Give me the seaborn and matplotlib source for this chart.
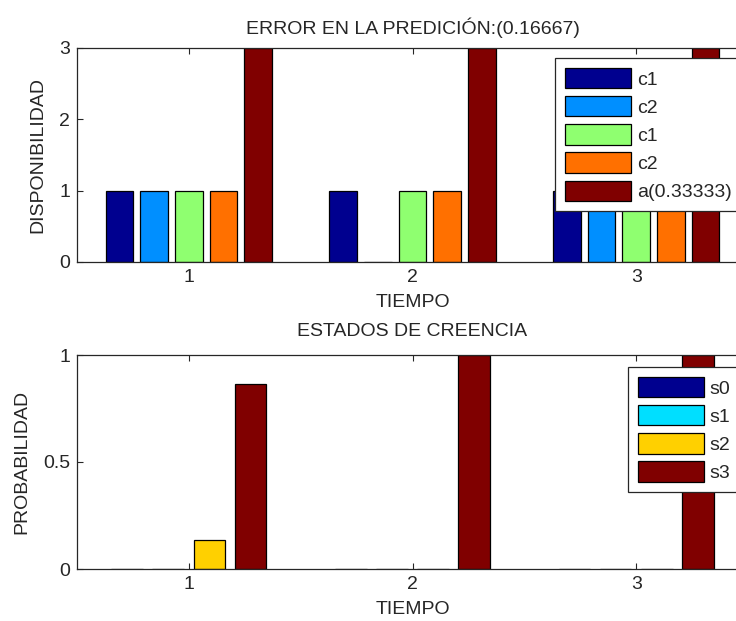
import pandas as pd
import seaborn as sns
import matplotlib.pyplot as plt
from matplotlib.patches import Patch

tiempo = [1, 2, 3]

# panel superior: disponibilidad
disp_labels = ["c1", "c2", "c1", "c2", "a(0.33333)"]
disp_c1a = [1, 1, 1]
disp_c2a = [1, 0, 1]
disp_c1b = [1, 1, 1]
disp_c2b = [1, 1, 1]
disp_a = [3, 3, 3]
disp_colors = ["#00008f", "#008fff", "#8fff70", "#ff7000", "#800000"]

# panel inferior: estados de creencia
prob_labels = ["s0", "s1", "s2", "s3"]
prob_s0 = [0, 0, 0]
prob_s1 = [0, 0, 0]
prob_s2 = [0.13333, 0, 0]
prob_s3 = [0.86667, 1, 1]
prob_colors = ["#00008f", "#00dfff", "#ffd000", "#800000"]


def long_table(series):
    rows = []
    for k, vals in enumerate(series):
        for t, v in zip(tiempo, vals):
            rows.append({"tiempo": t, "valor": v, "serie": str(k)})
    return pd.DataFrame(rows)


sns.set_theme(style="white")
plt.rcParams["font.family"] = ["Liberation Sans", "DejaVu Sans"]
plt.rcParams["text.color"] = "#262626"
fs = 14

fig = plt.figure(figsize=(7.36, 6.21), dpi=100)
ax1 = fig.add_axes([77 / 736, 1 - 262 / 621, 671 / 736, 214 / 621])
ax2 = fig.add_axes([77 / 736, 1 - 569 / 621, 671 / 736, 214 / 621])

df1 = long_table([disp_c1a, disp_c2a, disp_c1b, disp_c2b, disp_a])
keys1 = [str(k) for k in range(len(disp_labels))]
sns.barplot(data=df1, x="tiempo", y="valor", hue="serie", hue_order=keys1,
            palette=dict(zip(keys1, disp_colors)), width=0.775, gap=0.2,
            edgecolor="black", linewidth=0.9, saturation=1, legend=False, ax=ax1)

df2 = long_table([prob_s0, prob_s1, prob_s2, prob_s3])
keys2 = [str(k) for k in range(len(prob_labels))]
sns.barplot(data=df2, x="tiempo", y="valor", hue="serie", hue_order=keys2,
            palette=dict(zip(keys2, prob_colors)), width=0.735, gap=0.23,
            edgecolor="black", linewidth=0.9, saturation=1, legend=False, ax=ax2)

ax1.set_ylim(0, 3)
ax1.set_yticks([0, 1, 2, 3])
ax2.set_ylim(0, 1)
ax2.set_yticks([0, 0.5, 1])
ax2.set_yticklabels(["0", "0.5", "1"])

for ax in (ax1, ax2):
    ax.set_xlim(-0.5, 2.5)
    ax.tick_params(direction="in", top=True, right=True, bottom=True, left=True,
                   length=4, width=0.8, labelsize=fs, pad=5, colors="#262626")
    for s in ax.spines.values():
        s.set_color("#262626")
        s.set_linewidth(0.9)
    ax.set_xlabel("TIEMPO", fontsize=fs, labelpad=6)

ax1.set_ylabel("DISPONIBILIDAD", fontsize=fs, labelpad=9)
ax2.set_ylabel("PROBABILIDAD", fontsize=fs, labelpad=9)
ax1.set_title("ERROR EN LA PREDICIÓN:(0.16667)", fontsize=fs, pad=10)
ax2.set_title("ESTADOS DE CREENCIA", fontsize=fs, pad=14)

leg_kw = dict(loc="upper left", bbox_transform=fig.transFigure, fontsize=fs,
              handlelength=3.4, handleheight=1.25, labelspacing=0.38,
              handletextpad=0.3, borderpad=0.5, borderaxespad=0,
              fancybox=False, shadow=False, framealpha=1)

h1 = [Patch(facecolor=c, edgecolor="black", linewidth=0.9) for c in disp_colors]
leg1 = ax1.legend(h1, disp_labels, bbox_to_anchor=(555 / 736, 1 - 58 / 621), **leg_kw)
leg1.get_frame().set_edgecolor("#262626")
leg1.get_frame().set_linewidth(0.9)

h2 = [Patch(facecolor=c, edgecolor="black", linewidth=0.9) for c in prob_colors]
leg2 = ax2.legend(h2, prob_labels, bbox_to_anchor=(628 / 736, 1 - 367 / 621), **leg_kw)
leg2.get_frame().set_edgecolor("#262626")
leg2.get_frame().set_linewidth(0.9)

fig.savefig("out.png", dpi=100)
